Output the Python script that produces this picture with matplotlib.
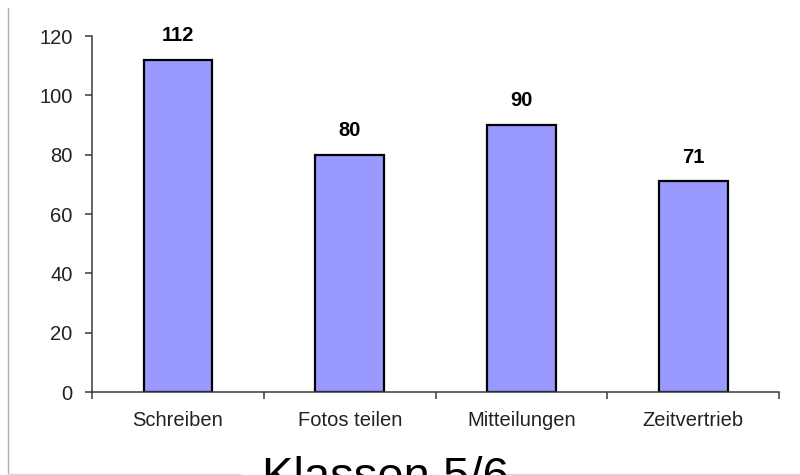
import matplotlib.pyplot as plt
from matplotlib.lines import Line2D
import numpy as np

# Data
categories = ['Schreiben', 'Fotos teilen', 'Mitteilungen', 'Zeitvertrieb']
values = [112, 80, 90, 71]
y_ticks = [0, 20, 40, 60, 80, 100, 120]
title = 'Klassen 5/6'

plt.rcParams['font.family'] = ['Liberation Sans', 'DejaVu Sans']

fig = plt.figure(figsize=(8, 4.75), dpi=100)
ax = fig.add_axes([0.115, 0.1747, 0.859, 0.7495])

x = np.arange(len(categories))
ax.bar(x, values, width=0.4, color='#9999ff', edgecolor='black', linewidth=1.6, zorder=3)

for xi, v in zip(x, values):
    ax.text(xi, v + 5, str(v), ha='center', va='bottom', fontsize=14.5,
            fontweight='bold', color='black')

ax.set_xlim(-0.5, len(categories) - 0.5)
ax.set_ylim(0, 120)
ax.set_yticks(y_ticks)
ax.set_xticks(x)
ax.set_xticklabels(categories)
ax.set_xticks(np.arange(-0.5, len(categories), 1), minor=True)

axis_col = '#3a3a3a'
ax.spines['top'].set_visible(False)
ax.spines['right'].set_visible(False)
ax.spines['left'].set_color(axis_col)
ax.spines['bottom'].set_color(axis_col)
ax.spines['left'].set_linewidth(1.1)
ax.spines['bottom'].set_linewidth(1.1)
ax.spines['bottom'].set_zorder(4)

ax.tick_params(axis='y', direction='out', length=5, width=1.1, color=axis_col,
               labelsize=14.5, labelcolor='#222222', pad=9)
ax.tick_params(axis='x', which='major', length=0, labelsize=14.5,
               labelcolor='#222222', pad=14)
ax.tick_params(axis='x', which='minor', direction='out', length=5, width=1.1,
               color=axis_col)

# slide frame remnants
frame_col = '#b0b0b0'
fig.add_artist(Line2D([7.5 / 800, 7.5 / 800], [0, 1 - 8 / 475], color=frame_col, lw=1.0))
fig.add_artist(Line2D([8 / 800, 240 / 800], [1.5 / 475, 1.5 / 475], color='#d8d8d8', lw=1.0))
fig.add_artist(Line2D([505 / 800, 1.0], [1.5 / 475, 1.5 / 475], color='#d8d8d8', lw=1.0))

fig.text(385 / 800, 1 - 456 / 475, title, ha='center', va='top', fontsize=34,
         color='black')

plt.savefig('out.png', dpi=100)
